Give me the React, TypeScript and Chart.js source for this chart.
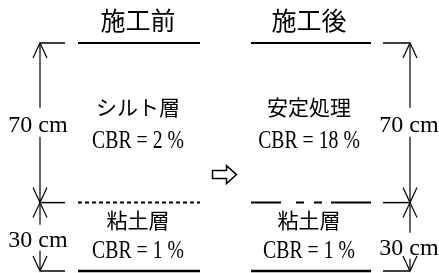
import React, { useEffect, useRef } from "react";
import { Chart, registerables } from "chart.js";

Chart.register(...registerables);

// ---- data ----
const stages = ["施工前", "施工後"];
const layerThickness = [70, 30]; // cm
const thicknessLabels = ["70 cm", "30 cm"];
const layersBefore = ["シルト層", "粘土層"];
const layersAfter = ["安定処理", "粘土層"];
const cbrBefore = [2, 1];
const cbrAfter = [18, 1];

// ---- layout (pixels / styles) ----
const W = 439;
const H = 273;
const COLS = [
  { from: 78, to: 200, center: 138 },
  { from: 251, to: 371, center: 309 },
];
const DIMS = [
  { x: 40, tickFrom: 40, tickTo: 65, labelX: 38, labelDy: [9, 10] },
  { x: 410, tickFrom: 383, tickTo: 410, labelX: 409, labelDy: [9, 18] },
];
const GAP_ABOVE = [24, 22];
const GAP_BELOW = [5, 4];
const colDash: number[][][] = [
  [[], [4, 3], []],
  [[], [30, 15, 8, 10, 8, 9, 40, 100], []],
];
const colWidth = [2, 2, 2.5];
const NAME_DY = [-8, -8.5];
const CBR_DY = [25, 21];
const SERIF = "'Liberation Serif', 'DejaVu Serif', serif";
const CJK = "'Noto Sans CJK JP', 'Noto Sans CJK SC', sans-serif";

function drawText(
  ctx: CanvasRenderingContext2D,
  text: string,
  x: number,
  y: number,
  font: string,
  sx = 1
) {
  ctx.save();
  ctx.font = font;
  ctx.textAlign = "center";
  ctx.textBaseline = "alphabetic";
  ctx.fillStyle = "#000";
  ctx.translate(x, y);
  ctx.scale(sx, 1);
  ctx.fillText(text, 0, 0);
  ctx.restore();
}

function arrowHead(ctx: CanvasRenderingContext2D, x: number, y: number, dir: number) {
  // dir = 1 : pointing up (arms go down), -1 : pointing down
  ctx.beginPath();
  ctx.moveTo(x - 7, y + dir * 15);
  ctx.lineTo(x, y);
  ctx.lineTo(x + 7, y + dir * 15);
  ctx.stroke();
}

export default function App() {
  const ref = useRef<HTMLCanvasElement>(null);

  useEffect(() => {
    document.body.style.margin = "0";
    const canvas = ref.current;
    if (!canvas) return;

    const depths: number[] = [0];
    layerThickness.forEach((t) => depths.push(depths[depths.length - 1] + t));
    const total = depths[depths.length - 1];

    const common = {
      showLine: true,
      pointRadius: 0,
      borderColor: "#000",
      backgroundColor: "#000",
      clip: false as any,
      borderCapStyle: "butt" as const,
    };

    const datasets: any[] = [];
    depths.forEach((d, bi) => {
      stages.forEach((_, si) => {
        const col = COLS[si];
        datasets.push({
          ...common,
          data: [
            { x: col.from, y: d },
            { x: col.to, y: d },
          ],
          borderDash: colDash[si][bi],
          borderWidth: colWidth[bi],
        });
        const dim = DIMS[si];
        datasets.push({
          ...common,
          data: [
            { x: dim.tickFrom, y: d },
            { x: dim.tickTo, y: d },
          ],
          borderWidth: 1.5,
        });
      });
    });

    const diagramPlugin = {
      id: "diagram",
      afterDatasetsDraw(chart: any) {
        const ctx: CanvasRenderingContext2D = chart.ctx;
        const xs = chart.scales.x;
        const ys = chart.scales.y;
        const X = (v: number) => xs.getPixelForValue(v);
        const Y = (v: number) => ys.getPixelForValue(v);

        // titles
        stages.forEach((s, si) => {
          drawText(ctx, s, X(COLS[si].center), Y(0) - 13, `25px ${CJK}`);
        });

        // layer names and CBR
        const names = [layersBefore, layersAfter];
        const cbrs = [cbrBefore, cbrAfter];
        layerThickness.forEach((_, li) => {
          const mid = (Y(depths[li]) + Y(depths[li + 1])) / 2;
          stages.forEach((__, si) => {
            const cx = X(COLS[si].center);
            drawText(ctx, names[si][li], cx, mid + NAME_DY[li], `21px ${CJK}`);
            drawText(ctx, `CBR = ${cbrs[si][li]} %`, cx, mid + CBR_DY[li], `25px ${SERIF}`, 0.79);
          });
        });

        // dimension lines
        ctx.save();
        ctx.strokeStyle = "#000";
        ctx.lineWidth = 1.2;
        DIMS.forEach((dim) => {
          const x = X(dim.x);
          layerThickness.forEach((_, li) => {
            const top = Y(depths[li]);
            const bot = Y(depths[li + 1]);
            const mid = (top + bot) / 2;
            const base = mid + dim.labelDy[li];
            const g1 = base - GAP_ABOVE[li];
            const g2 = base + GAP_BELOW[li];
            ctx.beginPath();
            ctx.moveTo(x, top);
            ctx.lineTo(x, g1);
            ctx.moveTo(x, g2);
            ctx.lineTo(x, bot);
            ctx.stroke();
            arrowHead(ctx, x, top, 1);
            arrowHead(ctx, x, bot, -1);
            drawText(ctx, thicknessLabels[li], X(dim.labelX), base, `24px ${SERIF}`);
          });
        });

        // hollow arrow between stages
        const ax = (X(COLS[0].to) + X(COLS[1].from)) / 2 - 1;
        const ay = Y(depths[1]) - 28;
        ctx.lineWidth = 1.5;
        ctx.beginPath();
        ctx.moveTo(ax - 12, ay - 4);
        ctx.lineTo(ax + 2, ay - 4);
        ctx.lineTo(ax + 2, ay - 9);
        ctx.lineTo(ax + 12, ay);
        ctx.lineTo(ax + 2, ay + 9);
        ctx.lineTo(ax + 2, ay + 4);
        ctx.lineTo(ax - 12, ay + 4);
        ctx.closePath();
        ctx.stroke();
        ctx.restore();
      },
    };

    const chart = new Chart(canvas, {
      type: "scatter",
      data: { datasets },
      options: {
        responsive: false,
        devicePixelRatio: 1,
        animation: false,
        layout: { padding: { top: 43, bottom: 2, left: 0, right: 0 } },
        scales: {
          x: { type: "linear", min: 0, max: W, display: false },
          y: { type: "linear", min: 0, max: total, reverse: true, display: false },
        },
        plugins: {
          legend: { display: false },
          tooltip: { enabled: false },
        },
      },
      plugins: [diagramPlugin],
    });

    return () => chart.destroy();
  }, []);

  return (
    <div style={{ width: W, height: H, background: "#fff" }}>
      <canvas ref={ref} width={W} height={H} style={{ display: "block", width: W, height: H }} />
    </div>
  );
}
